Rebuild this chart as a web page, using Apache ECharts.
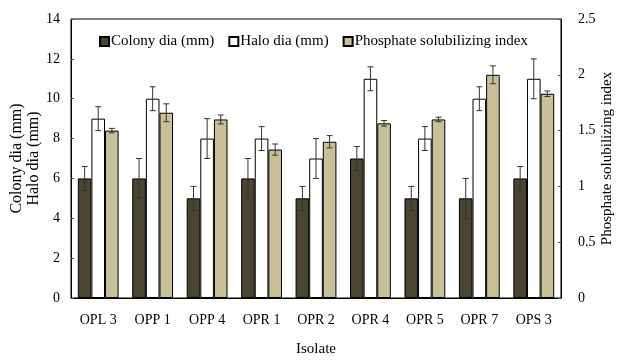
<!DOCTYPE html>
<html><head><meta charset="utf-8">
<script src="https://cdn.jsdelivr.net/npm/echarts@6/dist/echarts.min.js"></script>
<style>html,body{margin:0;padding:0;background:#fff}#c{width:620px;height:364px}</style>
</head><body><div id="c"></div>
<script>
const categories = ['OPL 3','OPP 1','OPP 4','OPR 1','OPR 2','OPR 4','OPR 5','OPR 7','OPS 3'];
const colonyDia = [6, 6, 5, 6, 5, 7, 5, 5, 6];
const colonyErr = [0.6, 1, 0.6, 1, 0.6, 0.6, 0.6, 1, 0.6];
const haloDia = [9, 10, 8, 8, 7, 11, 8, 10, 11];
const haloErr = [0.6, 0.6, 1, 0.6, 1, 0.6, 0.6, 0.6, 1];
const psi = [1.5, 1.66, 1.6, 1.33, 1.4, 1.565, 1.6, 2.0, 1.83];
const psiErr = [0.02, 0.08, 0.04, 0.05, 0.055, 0.025, 0.02, 0.08, 0.025];
const leftTicks = {min: 0, max: 14, interval: 2};
const rightTicks = {min: 0, max: 2.5, interval: 0.5};

const FONT = 'Liberation Serif';
const CAT_GAP = 0.25;
function errSeries(vals, errs, idx, yAxisIndex) {
  return {
    type: 'custom', yAxisIndex: yAxisIndex, z: 10, silent: true,
    data: vals.map((v, i) => [i, v, errs[i]]),
    renderItem: function (params, api) {
      const i = api.value(0), v = api.value(1), e = api.value(2);
      const band = api.size([1, 0])[0];
      const bw = band * (1 - CAT_GAP) / 3;
      const c = api.coord([i, v]);
      const x = c[0] + (idx - 1) * bw;
      const yt = api.coord([i, v + e])[1];
      const yb = api.coord([i, v - e])[1];
      const cap = 3;
      const st = {stroke: '#333', lineWidth: 1};
      return {type: 'group', children: [
        {type: 'line', shape: {x1: x, y1: yt, x2: x, y2: yb}, style: st},
        {type: 'line', shape: {x1: x - cap, y1: yt, x2: x + cap, y2: yt}, style: st},
        {type: 'line', shape: {x1: x - cap, y1: yb, x2: x + cap, y2: yb}, style: st}
      ]};
    }
  };
}
const chart = echarts.init(document.getElementById('c'));
chart.setOption({
  animation: false,
  textStyle: {fontFamily: FONT},
  grid: {left: 71, right: 59, top: 19, bottom: 66, show: true, borderColor: '#000', borderWidth: 1,
         containLabel: false, outerBoundsMode: 'none'},
  legend: {
    data: ['Colony dia (mm)', 'Halo dia (mm)', 'Phosphate solubilizing index'],
    top: 29, left: 94, itemWidth: 9, itemHeight: 9, itemGap: 14, icon: 'rect',
    textStyle: {fontFamily: FONT, fontSize: 15, color: '#000', padding: [0, 0, 0, -3]}
  },
  xAxis: {
    type: 'category', data: categories,
    name: 'Isolate', nameLocation: 'middle', nameGap: 44, nameMoveOverlap: false,
    nameTextStyle: {fontFamily: FONT, fontSize: 15, color: '#000'},
    axisLine: {lineStyle: {color: '#000'}}, axisTick: {show: false},
    axisLabel: {fontFamily: FONT, fontSize: 14, color: '#000', margin: 15}
  },
  yAxis: [{
    type: 'value', min: leftTicks.min, max: leftTicks.max, interval: leftTicks.interval,
    name: 'Colony dia (mm)\nHalo dia (mm)', nameLocation: 'middle', nameGap: 29, nameRotate: 90,
    nameMoveOverlap: false,
    nameTextStyle: {fontFamily: FONT, fontSize: 16, color: '#000', lineHeight: 17},
    axisLine: {show: true, lineStyle: {color: '#000'}},
    axisTick: {show: true, inside: true, length: 3, lineStyle: {color: '#555'}},
    splitLine: {show: false},
    axisLabel: {fontFamily: FONT, fontSize: 14, color: '#000', margin: 11}
  }, {
    type: 'value', min: rightTicks.min, max: rightTicks.max, interval: rightTicks.interval,
    name: 'Phosphate solubilizing index', nameLocation: 'middle', nameGap: 39, nameRotate: 90,
    nameMoveOverlap: false,
    nameTextStyle: {fontFamily: FONT, fontSize: 15, color: '#000'},
    axisLine: {show: true, lineStyle: {color: '#000'}},
    axisTick: {show: true, inside: true, length: 3, lineStyle: {color: '#555'}},
    splitLine: {show: false},
    axisLabel: {fontFamily: FONT, fontSize: 14, color: '#000', margin: 17}
  }],
  series: [
    {name: 'Colony dia (mm)', type: 'bar', data: colonyDia, barGap: '0%', barCategoryGap: (CAT_GAP * 100) + '%',
     itemStyle: {color: '#4a4530', borderColor: '#000', borderWidth: 1}},
    {name: 'Halo dia (mm)', type: 'bar', data: haloDia, barGap: '0%', barCategoryGap: (CAT_GAP * 100) + '%',
     itemStyle: {color: '#ffffff', borderColor: '#000', borderWidth: 1}},
    {name: 'Phosphate solubilizing index', type: 'bar', yAxisIndex: 1, data: psi, barGap: '0%', barCategoryGap: (CAT_GAP * 100) + '%',
     itemStyle: {color: '#c9c09a', borderColor: '#000', borderWidth: 1}},
    errSeries(colonyDia, colonyErr, 0, 0),
    errSeries(haloDia, haloErr, 1, 0),
    errSeries(psi, psiErr, 2, 1)
  ]
});
</script></body></html>
